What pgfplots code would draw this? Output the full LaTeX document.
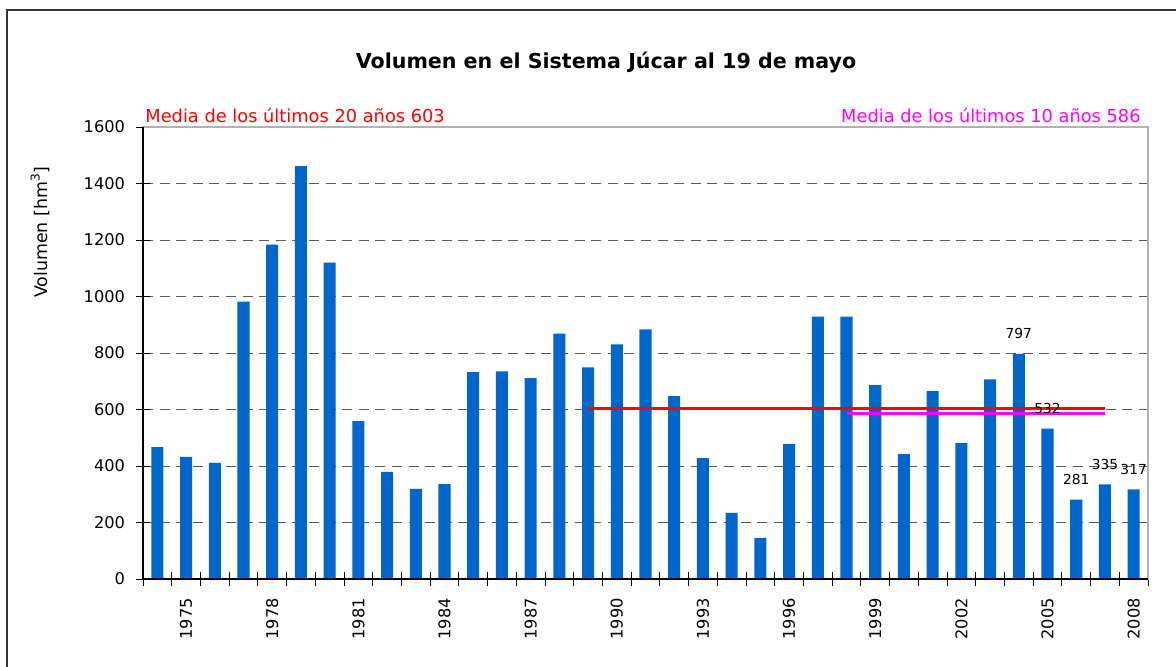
\documentclass[border=0pt]{standalone}
\usepackage{fontspec}
\setmainfont{DejaVu Sans}
\usepackage{pgfplots}
\pgfplotsset{compat=1.18}
\definecolor{barblue}{HTML}{0066CC}
\definecolor{gridgray}{HTML}{5A5A5A}
\definecolor{mag}{HTML}{FF00FF}
\definecolor{redline}{HTML}{FF0000}
\begin{document}
\begin{tikzpicture}
\useasboundingbox (0,0) rectangle (588pt,-333pt);
\fill[white] (0,0) rectangle (588pt,-333pt);
\draw[black!80, line width=0.8pt] (3.5pt,-340pt) -- (3.5pt,-5pt) -- (595pt,-5pt);
\begin{axis}[
  at={(71.5pt,-289.5pt)}, anchor=south west,
  scale only axis, width=502.5pt, height=226pt,
  xmin=1973.5, xmax=2008.5, ymin=0, ymax=1600,
  xtick={1975,1978,1981,1984,1987,1990,1993,1996,1999,2002,2005,2008},
  xticklabels={1975,1978,1981,1984,1987,1990,1993,1996,1999,2002,2005,2008},
  minor xtick={1973.5,1974.5,1975.5,1976.5,1977.5,1978.5,1979.5,1980.5,1981.5,1982.5,1983.5,1984.5,1985.5,1986.5,1987.5,1988.5,1989.5,1990.5,1991.5,1992.5,1993.5,1994.5,1995.5,1996.5,1997.5,1998.5,1999.5,2000.5,2001.5,2002.5,2003.5,2004.5,2005.5,2006.5,2007.5,2008.5},
  ytick={0,200,400,600,800,1000,1200,1400,1600},
  yticklabels={0,200,400,600,800,1000,1200,1400,1600},
  xtick pos=bottom, ytick pos=left,
  ymajorgrids,
  grid style={gridgray, dash pattern=on 5pt off 3.3pt, line width=0.5pt},
  tick align=center,
  major tick length=7pt, minor tick length=7pt,
  tick style={black, line width=0.5pt},
  major x tick style={draw=none},
  axis line style={draw=gray!60, line width=0.6pt},
  tick label style={font=\fontsize{8.1}{9.5}\selectfont, black},
  xticklabel style={rotate=90, anchor=east, xshift=-2.5pt},
  yticklabel style={xshift=-2pt},
  /pgf/number format/assume math mode=true,
  clip=false,
]
\addplot[ybar, bar width=0.42, bar shift=0pt, fill=barblue, draw=none] coordinates {
(1974,467) (1975,432) (1976,411) (1977,982) (1978,1184) (1979,1462) (1980,1120)
(1981,559) (1982,379) (1983,319) (1984,336) (1985,732) (1986,735) (1987,711)
(1988,869) (1989,749) (1990,831) (1991,884) (1992,647) (1993,428) (1994,234)
(1995,146) (1996,478) (1997,929) (1998,929) (1999,686) (2000,442) (2001,665)
(2002,481) (2003,707) (2004,797) (2005,532) (2006,281) (2007,335) (2008,317)
};
\addplot[redline, line width=1.2pt] coordinates {(1989,603) (2007,603)};
\addplot[mag, line width=1.2pt] coordinates {(1998,586) (2007,586)};
\addplot[draw=none, mark=none, nodes near coords, point meta=explicit symbolic,
  nodes near coords style={font=\fontsize{6.9}{8}\selectfont, black, anchor=south, yshift=4pt}]
  coordinates {(2004,797) [797] (2005,532) [532] (2006,281) [281] (2007,335) [335] (2008,317) [317]};
\draw[black, line width=0.6pt] (rel axis cs:0,1) -- (rel axis cs:0,0) -- (rel axis cs:1,0);
\end{axis}
\node[font=\bfseries\fontsize{10.3}{12}\selectfont] at (303pt,-31pt) {Volumen en el Sistema Júcar al 19 de mayo};
\node[font=\fontsize{8.9}{10}\selectfont, text=redline, anchor=west, inner sep=0pt] at (72.5pt,-57.5pt) {Media de los últimos 20 años 603};
\node[font=\fontsize{8.9}{10}\selectfont, text=mag, anchor=east, inner sep=0pt] at (570.5pt,-57.5pt) {Media de los últimos 10 años 586};
\node[font=\fontsize{8.7}{10}\selectfont, rotate=90] at (20pt,-116pt) {Volumen [hm\textsuperscript{3}]};
\end{tikzpicture}
\end{document}
